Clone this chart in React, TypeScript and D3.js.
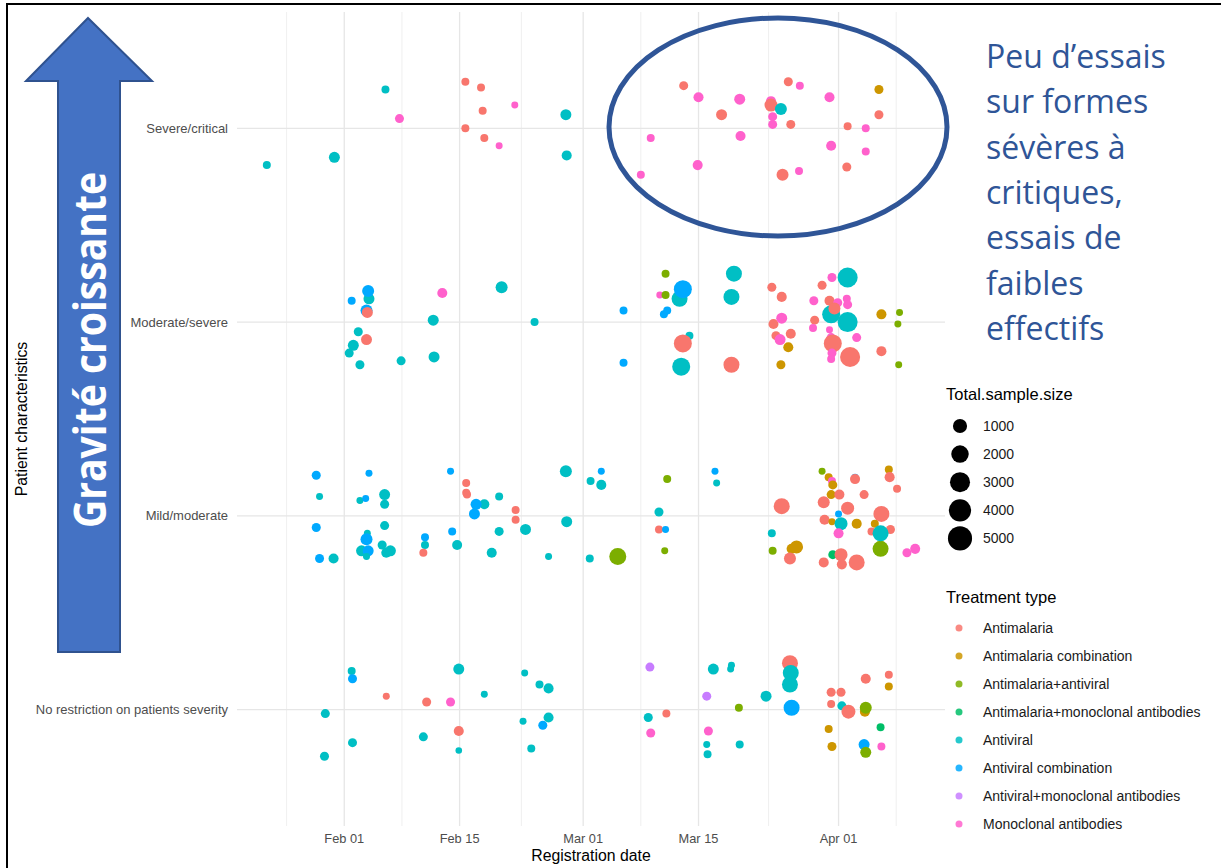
import React from "react";
import * as d3 from "d3";

// each point: [days after Feb 01 2020, vertical jitter (in category steps), total sample size, treatment index]
type Pt = [number, number, number, number];

const CATEGORIES = [
  "No restriction on patients severity",
  "Mild/moderate",
  "Moderate/severe",
  "Severe/critical",
];

const TREATMENTS = [
  "Antimalaria",
  "Antimalaria combination",
  "Antimalaria+antiviral",
  "Antimalaria+monoclonal antibodies",
  "Antiviral",
  "Antiviral combination",
  "Antiviral+monoclonal antibodies",
  "Monoclonal antibodies",
];
const COLORS = [
  "#F8766D",
  "#CD9600",
  "#7CAE00",
  "#00BE67",
  "#00BFC4",
  "#00A9FF",
  "#C77CFF",
  "#FF61CC",
];

const SIZE_BREAKS = [1000, 2000, 3000, 4000, 5000];
const X_TICKS = ["2020-02-01", "2020-02-15", "2020-03-01", "2020-03-15", "2020-04-01"];
// neighbours of the first/last tick, only used to place the minor grid
const X_TICKS_OUTER = ["2020-01-18", "2020-04-15"];

const NOTE_LINES = [
  "Peu d’essais",
  "sur formes",
  "sévères à",
  "critiques,",
  "essais de",
  "faibles",
  "effectifs",
];

const SEVERE_CRITICAL: Pt[] = [
  [5.0, 0.2, 60, 4],
  [14.7, 0.24, 60, 0],
  [16.6, 0.21, 60, 0],
  [20.7, 0.12, 15, 7],
  [16.8, 0.09, 60, 0],
  [6.7, 0.05, 140, 7],
  [26.9, 0.07, 380, 4],
  [14.7, 0.0, 60, 0],
  [17.0, -0.05, 60, 0],
  [18.8, -0.09, 15, 7],
  [27.0, -0.14, 250, 4],
  [-1.2, -0.15, 380, 4],
  [-9.4, -0.19, 60, 4],
  [41.2, 0.22, 140, 0],
  [43.0, 0.16, 250, 7],
  [48.0, 0.15, 380, 7],
  [45.8, 0.07, 380, 0],
  [51.8, 0.14, 250, 7],
  [51.8, 0.12, 750, 0],
  [53.0, 0.1, 550, 4],
  [52.0, 0.06, 140, 7],
  [52.0, 0.02, 140, 7],
  [54.2, 0.02, 140, 0],
  [53.9, 0.24, 140, 0],
  [55.3, 0.22, 60, 7],
  [58.9, 0.16, 250, 7],
  [64.9, 0.2, 140, 1],
  [64.9, 0.07, 140, 0],
  [61.1, 0.01, 60, 0],
  [63.3, 0.0, 60, 7],
  [37.2, -0.05, 60, 7],
  [48.1, -0.04, 250, 7],
  [59.1, -0.09, 250, 7],
  [63.3, -0.12, 60, 7],
  [42.9, -0.19, 250, 7],
  [61.0, -0.2, 140, 0],
  [53.2, -0.24, 550, 0],
  [55.2, -0.22, 60, 7],
  [36.0, -0.24, 60, 7],
];

const MODERATE_SEVERE: Pt[] = [
  [0.9, 0.11, 60, 5],
  [3.0, 0.12, 380, 4],
  [2.9, 0.16, 550, 5],
  [2.7, 0.06, 550, 5],
  [2.8, 0.05, 380, 0],
  [11.9, 0.15, 250, 7],
  [19.1, 0.18, 550, 4],
  [10.8, 0.01, 380, 4],
  [23.1, 0.0, 60, 4],
  [1.7, -0.05, 140, 4],
  [2.7, -0.09, 380, 0],
  [1.1, -0.12, 380, 4],
  [0.6, -0.16, 140, 4],
  [1.9, -0.22, 140, 4],
  [6.9, -0.2, 140, 4],
  [10.9, -0.18, 380, 4],
  [33.9, 0.06, 60, 5],
  [33.9, -0.21, 60, 5],
  [39.0, 0.25, 60, 2],
  [38.3, 0.14, 15, 7],
  [39.0, 0.14, 60, 2],
  [40.7, 0.12, 1520, 4],
  [41.1, 0.17, 2200, 5],
  [38.8, 0.04, 60, 5],
  [39.2, 0.06, 60, 5],
  [41.9, -0.07, 60, 4],
  [41.1, -0.11, 2200, 0],
  [40.9, -0.23, 2200, 4],
  [47.3, 0.25, 1520, 4],
  [47.0, 0.13, 1520, 4],
  [47.0, -0.22, 1520, 0],
  [51.9, 0.18, 140, 0],
  [53.1, 0.13, 250, 0],
  [52.1, -0.01, 250, 0],
  [53.1, 0.02, 380, 7],
  [54.2, -0.06, 250, 0],
  [52.4, -0.07, 140, 0],
  [52.9, -0.09, 380, 7],
  [53.9, -0.13, 250, 1],
  [53.0, -0.22, 140, 1],
  [58.0, 0.19, 140, 0],
  [59.2, 0.23, 140, 7],
  [61.1, 0.23, 3000, 4],
  [57.0, 0.11, 140, 7],
  [58.9, 0.11, 250, 0],
  [59.9, 0.1, 140, 7],
  [61.0, 0.12, 60, 7],
  [61.1, 0.09, 140, 7],
  [59.1, 0.04, 2200, 4],
  [59.5, 0.07, 550, 0],
  [61.1, 0.0, 3000, 4],
  [57.1, 0.01, 140, 0],
  [56.9, -0.03, 60, 7],
  [58.9, -0.04, 15, 7],
  [59.1, -0.08, 140, 7],
  [59.3, -0.11, 2200, 0],
  [62.2, -0.08, 140, 7],
  [59.2, -0.16, 140, 7],
  [59.1, -0.19, 60, 7],
  [61.4, -0.18, 3000, 0],
  [65.2, 0.04, 250, 1],
  [67.4, 0.05, 15, 2],
  [67.2, -0.01, 15, 2],
  [65.2, -0.15, 250, 0],
  [67.3, -0.22, 15, 2],
];

const MILD_MODERATE: Pt[] = [
  [-3.4, 0.21, 140, 5],
  [-3.0, 0.1, 15, 4],
  [-3.4, -0.06, 140, 5],
  [-3.0, -0.22, 140, 5],
  [-1.3, -0.22, 250, 4],
  [3.0, 0.22, 15, 5],
  [1.9, 0.08, 15, 4],
  [2.6, 0.09, 15, 5],
  [4.9, 0.11, 380, 4],
  [4.9, 0.06, 140, 4],
  [4.9, -0.05, 140, 4],
  [2.8, -0.09, 15, 4],
  [2.7, -0.12, 550, 5],
  [4.6, -0.15, 140, 4],
  [2.1, -0.18, 380, 4],
  [2.9, -0.18, 380, 5],
  [2.7, -0.21, 15, 4],
  [5.1, -0.19, 250, 4],
  [5.6, -0.18, 380, 4],
  [9.8, -0.11, 60, 5],
  [9.8, -0.15, 60, 4],
  [9.6, -0.19, 60, 0],
  [12.9, 0.23, 15, 5],
  [13.1, -0.08, 60, 5],
  [13.7, -0.15, 250, 4],
  [14.8, 0.17, 60, 0],
  [14.8, 0.12, 60, 0],
  [14.9, 0.11, 60, 0],
  [17.0, 0.06, 250, 4],
  [16.0, 0.06, 380, 5],
  [15.8, 0.01, 380, 5],
  [18.8, 0.1, 60, 4],
  [20.8, 0.03, 60, 0],
  [20.8, -0.02, 60, 0],
  [18.8, -0.08, 140, 4],
  [22.0, -0.07, 380, 4],
  [17.9, -0.19, 250, 4],
  [24.8, -0.21, 15, 4],
  [26.9, 0.23, 550, 4],
  [27.0, -0.03, 380, 4],
  [31.2, 0.23, 15, 5],
  [29.9, 0.18, 60, 4],
  [31.2, 0.16, 250, 4],
  [29.8, -0.22, 60, 4],
  [33.2, -0.21, 1840, 2],
  [39.2, 0.19, 60, 2],
  [38.2, 0.02, 140, 4],
  [38.2, -0.07, 60, 0],
  [39.0, -0.07, 15, 5],
  [38.9, -0.18, 15, 2],
  [45.0, 0.23, 15, 5],
  [45.2, 0.17, 15, 4],
  [53.1, 0.05, 1520, 0],
  [51.9, -0.09, 60, 4],
  [52.0, -0.18, 60, 2],
  [54.3, -0.17, 250, 1],
  [54.1, -0.22, 550, 0],
  [54.9, -0.16, 750, 1],
  [58.0, 0.23, 15, 2],
  [58.8, 0.2, 60, 1],
  [59.2, 0.18, 60, 7],
  [59.3, 0.16, 140, 1],
  [59.1, 0.11, 140, 1],
  [60.1, 0.11, 250, 0],
  [58.2, 0.07, 550, 0],
  [61.1, 0.04, 750, 0],
  [60.0, 0.01, 15, 5],
  [58.3, -0.02, 250, 0],
  [59.2, -0.03, 15, 1],
  [60.3, -0.04, 750, 4],
  [62.2, -0.04, 250, 1],
  [60.0, -0.09, 250, 7],
  [62.0, 0.2, 15, 5],
  [62.0, 0.19, 250, 0],
  [63.1, 0.11, 140, 0],
  [66.1, 0.24, 60, 1],
  [66.2, 0.2, 250, 0],
  [67.1, 0.14, 60, 0],
  [65.2, 0.01, 1520, 0],
  [64.4, -0.04, 60, 1],
  [66.3, -0.07, 140, 0],
  [64.0, -0.08, 60, 0],
  [65.1, -0.17, 1520, 2],
  [65.1, -0.09, 1520, 4],
  [59.3, -0.2, 140, 3],
  [60.3, -0.2, 750, 0],
  [60.4, -0.25, 250, 0],
  [58.2, -0.24, 250, 0],
  [62.2, -0.24, 1520, 0],
  [68.3, -0.19, 140, 7],
  [69.3, -0.17, 250, 7],
];

const NO_RESTRICTION: Pt[] = [
  [0.9, 0.2, 60, 4],
  [1.0, 0.16, 140, 5],
  [5.1, 0.07, 15, 0],
  [-2.3, -0.02, 140, 4],
  [1.0, -0.17, 140, 4],
  [-2.4, -0.24, 140, 4],
  [13.9, 0.21, 380, 4],
  [10.0, 0.04, 140, 0],
  [12.9, 0.04, 140, 7],
  [17.0, 0.08, 15, 4],
  [13.9, -0.11, 250, 0],
  [9.6, -0.14, 140, 4],
  [13.9, -0.21, 5, 4],
  [21.9, 0.19, 15, 4],
  [23.7, 0.13, 60, 4],
  [24.8, 0.11, 250, 4],
  [21.7, -0.06, 15, 4],
  [24.1, -0.08, 140, 5],
  [24.8, -0.04, 250, 4],
  [22.7, -0.2, 60, 4],
  [37.1, 0.22, 140, 6],
  [36.9, -0.04, 140, 4],
  [37.2, -0.12, 140, 7],
  [39.1, -0.02, 60, 0],
  [44.8, 0.21, 380, 4],
  [46.9, 0.21, 15, 4],
  [47.0, 0.23, 15, 4],
  [44.0, 0.07, 140, 6],
  [44.2, -0.11, 140, 7],
  [44.0, -0.18, 15, 4],
  [44.1, -0.23, 60, 4],
  [47.9, 0.01, 60, 2],
  [48.0, -0.18, 60, 4],
  [51.2, 0.07, 380, 4],
  [54.1, 0.24, 1520, 0],
  [54.2, 0.19, 1520, 4],
  [54.1, 0.13, 1520, 4],
  [54.3, 0.01, 1520, 5],
  [59.1, 0.09, 140, 0],
  [60.3, 0.09, 140, 0],
  [59.1, 0.03, 60, 0],
  [60.4, 0.02, 140, 4],
  [61.2, -0.01, 980, 0],
  [63.3, 0.16, 250, 0],
  [66.1, 0.18, 60, 0],
  [66.1, 0.12, 60, 1],
  [63.2, -0.01, 250, 1],
  [63.3, 0.01, 550, 2],
  [58.8, -0.1, 60, 1],
  [59.2, -0.19, 140, 1],
  [63.1, -0.18, 380, 5],
  [63.3, -0.22, 380, 2],
  [65.1, -0.09, 60, 3],
  [65.2, -0.19, 60, 7],
];

const CATEGORY_POINTS = [NO_RESTRICTION, MILD_MODERATE, MODERATE_SEVERE, SEVERE_CRITICAL];

const W = 1221;
const H = 868;
const PANEL = { left: 237, right: 945, top: 12, bottom: 826 };
const FONT = "'Liberation Sans', Arial, sans-serif";
const DAY = 864e5;
const FEB1 = Date.UTC(2020, 1, 1);
const toDate = (d: number) => new Date(FEB1 + d * DAY);

const App = () => {
  const days = CATEGORY_POINTS.flat().map((p) => p[0]);
  const [d0, d1] = d3.extent(days) as [number, number];
  const pad = (d1 - d0) * 0.046;
  const x = d3
    .scaleUtc()
    .domain([toDate(d0 - pad), toDate(d1 + pad)])
    .range([PANEL.left, PANEL.right]);
  const y = d3
    .scalePoint<string>()
    .domain(CATEGORIES)
    .range([PANEL.bottom, PANEL.top])
    .padding(0.6);
  const step = y.step();
  const r = d3.scaleSqrt().domain([0, 5500]).range([3, 12.5]);
  const fmt = d3.utcFormat("%b %d");

  const majors = X_TICKS.map((s) => new Date(s + "T00:00:00Z"));
  const ext = [X_TICKS_OUTER[0], ...X_TICKS, X_TICKS_OUTER[1]].map(
    (s) => new Date(s + "T00:00:00Z").getTime()
  );
  const [lo, hi] = x.domain().map((d) => d.getTime());
  const minors = d3
    .pairs(ext)
    .map(([a, b]) => (a + b) / 2)
    .filter((t) => t > lo && t < hi)
    .map((t) => new Date(t));

  return (
    <svg
      width={W}
      height={H}
      style={{ position: "fixed", left: 0, top: 0, background: "#fff" }}
      fontFamily={FONT}
    >
      {/* slide frame */}
      <line x1={7} y1={3} x2={7} y2={H} stroke="#000" strokeWidth={2} />
      <line x1={6} y1={4} x2={W} y2={4} stroke="#000" strokeWidth={2} />

      {/* grid */}
      <g>
        {minors.map((d, i) => (
          <line key={"mn" + i} x1={x(d)} x2={x(d)} y1={PANEL.top} y2={PANEL.bottom} stroke="#EBEBEB" strokeWidth={0.8} />
        ))}
        {majors.map((d, i) => (
          <line key={"mj" + i} x1={x(d)} x2={x(d)} y1={PANEL.top} y2={PANEL.bottom} stroke="#E6E6E6" strokeWidth={1.3} />
        ))}
        {CATEGORIES.map((c) => (
          <line key={c} x1={PANEL.left} x2={PANEL.right} y1={y(c)} y2={y(c)} stroke="#E6E6E6" strokeWidth={1.3} />
        ))}
      </g>

      {/* points */}
      <g>
        {CATEGORIES.map((c, ci) =>
          CATEGORY_POINTS[ci].map((p, i) => (
            <circle
              key={c + i}
              cx={x(toDate(p[0]))}
              cy={(y(c) as number) - p[1] * step}
              r={r(p[2])}
              fill={COLORS[p[3]]}
            />
          ))
        )}
      </g>

      {/* axes text */}
      <g fill="#4D4D4D" fontSize={13}>
        {CATEGORIES.map((c) => (
          <text key={c} x={228} y={y(c)} dy="0.35em" textAnchor="end">
            {c}
          </text>
        ))}
        {majors.map((d, i) => (
          <text key={i} x={x(d)} y={843} textAnchor="middle" fontSize={12.8}>
            {fmt(d)}
          </text>
        ))}
      </g>
      <text x={(PANEL.left + PANEL.right) / 2} y={861} textAnchor="middle" fontSize={15.8} fill="#000">
        Registration date
      </text>
      <text
        transform={`translate(27, ${(PANEL.top + PANEL.bottom) / 2}) rotate(-90)`}
        textAnchor="middle"
        fontSize={15.8}
        fill="#000"
      >
        Patient characteristics
      </text>

      {/* size legend */}
      <text x={946} y={400} fontSize={16.5} fill="#000">
        Total.sample.size
      </text>
      {SIZE_BREAKS.map((n, i) => (
        <g key={n} transform={`translate(0, ${426 + i * 28.1})`}>
          <circle cx={960} cy={0} r={r(n)} fill="#000" />
          <text x={983} y={5} fontSize={14} fill="#1a1a1a">
            {n}
          </text>
        </g>
      ))}

      {/* treatment legend */}
      <text x={946} y={603} fontSize={16.5} fill="#000">
        Treatment type
      </text>
      {TREATMENTS.map((t, i) => (
        <g key={t} transform={`translate(0, ${628 + i * 28})`}>
          <circle cx={959} cy={0} r={3.5} fill={COLORS[i]} opacity={0.85} />
          <text x={983} y={5} fontSize={14} fill="#1a1a1a">
            {t}
          </text>
        </g>
      ))}

      {/* slide overlay: arrow */}
      <path
        d="M88,18 L152,81 L120,81 L120,652 L58,652 L58,81 L26,81 Z"
        fill="#4472C4"
        stroke="#2F528F"
        strokeWidth={2}
      />
      <text
        transform="translate(106, 350) rotate(-90)"
        textAnchor="middle"
        fontFamily="'Open Sans', sans-serif"
        fontWeight={700}
        fontSize={44}
        fill="#fff"
        textLength={356}
        lengthAdjust="spacingAndGlyphs"
      >
        Gravité croissante
      </text>

      {/* slide overlay: ellipse and note */}
      <ellipse cx={778} cy={127} rx={169} ry={109} fill="none" stroke="#2F5597" strokeWidth={5} />
      <g fontFamily="'Open Sans', sans-serif" fontSize={32} fill="#2F5597">
        {NOTE_LINES.map((s, i) => (
          <text key={i} x={986} y={68 + i * 45.3}>
            {s}
          </text>
        ))}
      </g>
    </svg>
  );
};

export default App;
